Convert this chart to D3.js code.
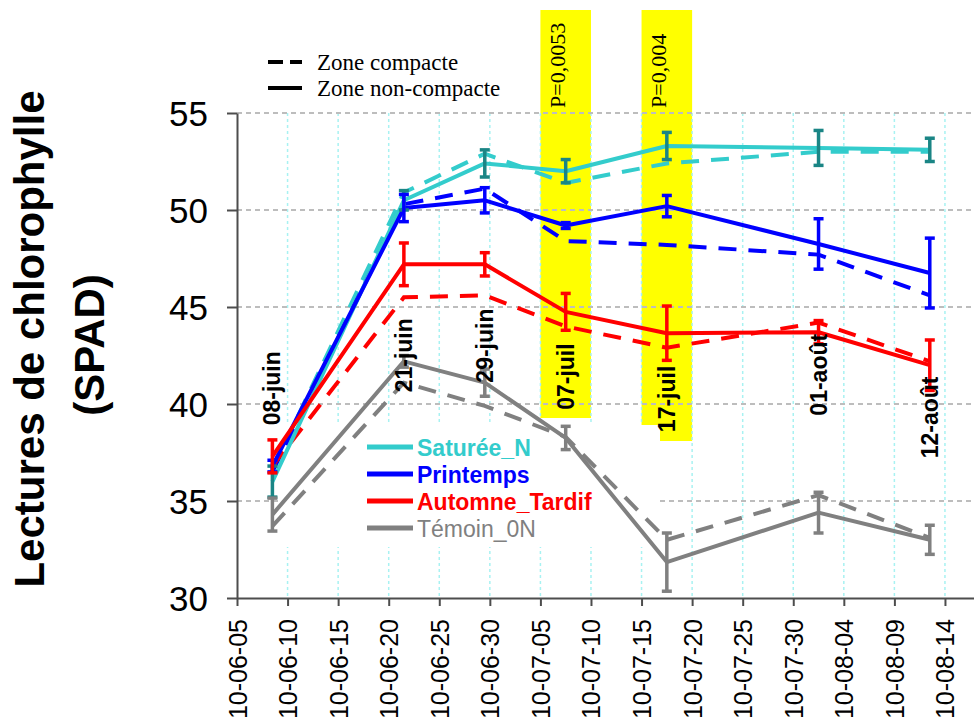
<!DOCTYPE html>
<html><head><meta charset="utf-8">
<script src="https://cdn.jsdelivr.net/npm/d3@7"></script>
<style>body{margin:0;background:#fff;} svg{display:block;}</style>
</head><body>
<svg id="chart" width="974" height="719"></svg>
<script>
// ---------- DATA ----------
const dates = ["2010-06-08","2010-06-21","2010-06-29","2010-07-07","2010-07-17","2010-08-01","2010-08-12"];
const dateLabels = ["08-juin","21-juin","29-juin","07-juil","17-juil","01-août","12-août"];
const dateLabelBaseValues = [38.9, 40.6, 41.1, 39.7, 38.55, 39.4, 37.2];
const xTickValues = ["2010-06-05","2010-06-10","2010-06-15","2010-06-20","2010-06-25","2010-06-30",
  "2010-07-05","2010-07-10","2010-07-15","2010-07-20","2010-07-25","2010-07-30",
  "2010-08-04","2010-08-09","2010-08-14"];
const yTicks = [30, 35, 40, 45, 50, 55];

const treatments = ["Saturée_N", "Printemps", "Automne_Tardif", "Témoin_0N"];
const zones = ["Zone compacte", "Zone non-compacte"];

// Zone non-compacte (solid)
const saturee_nc   = [36.0, 50.5, 52.4, 52.0, 53.3, 53.2, 53.1];
const printemps_nc = [36.8, 50.1, 50.5, 49.2, 50.2, 48.25, 46.75];
const automne_nc   = [37.3, 47.2, 47.2, 44.75, 43.65, 43.7, 42.0];
const temoin_nc    = [34.3, 42.2, 41.1, 38.25, 31.85, 34.4, 33.0];
// Zone compacte (dashed)
const saturee_c    = [36.6, 50.9, 52.9, 51.4, 52.4, 53.0, 53.0];
const printemps_c  = [36.5, 50.3, 51.1, 48.4, 48.2, 47.7, 45.6];
const automne_c    = [36.8, 45.5, 45.6, 44.0, 42.9, 44.2, 42.2];
const temoin_c     = [33.7, 41.1, 39.9, 38.3, 33.0, 35.3, 33.1];
// error half-widths (non-compacte)
const saturee_err   = [0.8, 0.5, 0.7, 0.6, 0.7, 0.9, 0.6];
const printemps_err = [0.3, 0.7, 0.65, 0.15, 0.55, 1.3, 1.8];
const automne_err   = [0.85, 1.1, 0.6, 0.95, 1.4, 0.6, 1.3];
const temoin_err    = [0.85, 0.3, 0.7, 0.6, 1.5, 1.05, 0.75];

const highlightDates = ["2010-07-07", "2010-07-17"];
const pValues = ["P=0,0053", "P=0,004"];

// ---------- SETUP ----------
const svg = d3.select("#chart");
const parse = d3.timeParse("%Y-%m-%d");
const mid = s => d3.timeHour.offset(parse(s), 12);   // centre of the day
const SANS = "'Liberation Sans', Arial, sans-serif";
const SERIF = "'Liberation Serif', 'Times New Roman', serif";

const x = d3.scaleTime().domain([parse("2010-06-05"), parse("2010-08-17")]).range([237, 975.3]);
const y = d3.scaleLinear().domain([30, 55]).range([598, 113]);

const colors = ["#33CCCC", "#0000FF", "#FF0000", "#808080"];
const errColors = ["#1A8585", "#0000FF", "#FF0000", "#808080"];
const series = [
  {nc: saturee_nc, c: saturee_c, err: saturee_err},
  {nc: printemps_nc, c: printemps_c, err: printemps_err},
  {nc: automne_nc, c: automne_c, err: automne_err},
  {nc: temoin_nc, c: temoin_c, err: temoin_err}
].map((s, i) => Object.assign(s, {name: treatments[i], color: colors[i], errColor: errColors[i]}));

// ---------- HIGHLIGHT BOXES ----------
const boxBottoms = [418, 441];
highlightDates.forEach((d, i) => {
  const x0 = x(d3.timeHour.offset(mid(d), -60)), x1 = x(d3.timeHour.offset(mid(d), 60));
  svg.append("rect").attr("x", x0).attr("y", 10).attr("width", x1 - x0)
    .attr("height", boxBottoms[i] - 10).attr("fill", "#FFFF00");
  svg.append("text").attr("transform", `translate(${(x0 + x1) / 2 - 1},108) rotate(-90)`)
    .attr("font-family", SERIF).attr("font-size", 22).attr("fill", "#000").text(pValues[i]);
});

// ---------- GRID ----------
svg.append("g").selectAll("line").data(xTickValues.slice(1)).join("line")
  .attr("x1", d => x(parse(d))).attr("x2", d => x(parse(d)))
  .attr("y1", y(55)).attr("y2", y(30))
  .attr("stroke", "#A8F2F2").attr("stroke-width", 1.5).attr("stroke-dasharray", "3,3");
svg.append("g").selectAll("line").data(yTicks.slice(1)).join("line")
  .attr("x1", 237).attr("x2", 972).attr("y1", d => y(d)).attr("y2", d => y(d))
  .attr("stroke", "#BDBDBD").attr("stroke-width", 2).attr("stroke-dasharray", "5,4");

// legend background
svg.append("rect").attr("x", 283).attr("y", 425).attr("width", 377).attr("height", 122).attr("fill", "#fff");

// ---------- AXES ----------
const xAxis = d3.axisBottom(x).tickValues(xTickValues.map(parse))
  .tickFormat(d3.timeFormat("%Y-%m-%d")).tickSize(8).tickSizeOuter(0);
const gx = svg.append("g").attr("transform", "translate(0,598)").call(xAxis);
gx.select(".domain").attr("stroke", "#4d4d4d").attr("stroke-width", 2);
gx.selectAll(".tick line").attr("stroke", "#4d4d4d").attr("stroke-width", 2);
gx.selectAll(".tick text").attr("transform", "rotate(-90)").attr("text-anchor", "end")
  .attr("x", -21).attr("y", 9).attr("dy", 0)
  .attr("font-family", SANS).attr("font-size", 25).attr("fill", "#000");

const yAxis = d3.axisLeft(y).tickValues(yTicks).tickSize(10).tickPadding(19).tickSizeOuter(0);
const gy = svg.append("g").attr("transform", "translate(237,0)").call(yAxis);
gy.select(".domain").attr("stroke", "#4d4d4d").attr("stroke-width", 2);
gy.selectAll(".tick line").attr("stroke", "#4d4d4d").attr("stroke-width", 2);
gy.selectAll(".tick text").attr("font-family", SANS).attr("font-size", 35).attr("fill", "#000").attr("dy", "0.36em");

// ---------- SERIES ----------
const pts = vals => vals.map((v, i) => [x(mid(dates[i])), y(v)]);
const line = d3.line();
series.forEach(s => {
  svg.append("path").attr("d", line(pts(s.c))).attr("fill", "none")
    .attr("stroke", s.color).attr("stroke-width", 4).attr("stroke-dasharray", "18,12");
});
series.forEach(s => {
  svg.append("path").attr("d", line(pts(s.nc))).attr("fill", "none")
    .attr("stroke", s.color).attr("stroke-width", 4).attr("stroke-linejoin", "round");
});
series.forEach(s => {
  const g = svg.append("g").attr("stroke", s.errColor).attr("stroke-width", 3.5);
  s.nc.forEach((v, i) => {
    const cx = x(mid(dates[i])), lo = y(v - s.err[i]), hi = y(v + s.err[i]);
    g.append("line").attr("x1", cx).attr("x2", cx).attr("y1", lo).attr("y2", hi);
    g.append("line").attr("x1", cx - 5).attr("x2", cx + 5).attr("y1", lo).attr("y2", lo);
    g.append("line").attr("x1", cx - 5).attr("x2", cx + 5).attr("y1", hi).attr("y2", hi);
  });
});

// ---------- DATE LABELS ----------
dates.forEach((d, i) => {
  svg.append("text").attr("transform", `translate(${x(mid(d)) + 8},${y(dateLabelBaseValues[i])}) rotate(-90)`)
    .attr("font-family", SANS).attr("font-weight", "bold").attr("font-size", 23).attr("fill", "#000")
    .text(dateLabels[i]);
});

// ---------- LEGENDS ----------
const legY = [447, 474, 501, 528];
series.forEach((s, i) => {
  svg.append("line").attr("x1", 367).attr("x2", 413).attr("y1", legY[i]).attr("y2", legY[i])
    .attr("stroke", s.color).attr("stroke-width", 5);
  svg.append("text").attr("x", 417).attr("y", legY[i] + 9)
    .attr("font-family", SANS).attr("font-size", 23)
    .attr("font-weight", i < 3 ? "bold" : "normal").attr("fill", s.color).text(s.name);
});

const zoneY = [62, 88];
zones.forEach((z, i) => {
  svg.append("line").attr("x1", 268).attr("x2", 302).attr("y1", zoneY[i]).attr("y2", zoneY[i])
    .attr("stroke", "#000").attr("stroke-width", 4).attr("stroke-dasharray", i === 0 ? "15,7" : null);
  svg.append("text").attr("x", 317).attr("y", zoneY[i] + 8)
    .attr("font-family", SERIF).attr("font-size", 23).attr("fill", "#000").text(z);
});

// ---------- Y TITLE ----------
svg.append("text").attr("transform", "translate(44,339) rotate(-90)").attr("text-anchor", "middle")
  .attr("font-family", SANS).attr("font-weight", "bold").attr("font-size", 42).attr("fill", "#000")
  .text("Lectures de chlorophylle");
svg.append("text").attr("transform", "translate(104,345) rotate(-90)").attr("text-anchor", "middle")
  .attr("font-family", SANS).attr("font-weight", "bold").attr("font-size", 42).attr("fill", "#000")
  .text("(SPAD)");
</script>
</body></html>
